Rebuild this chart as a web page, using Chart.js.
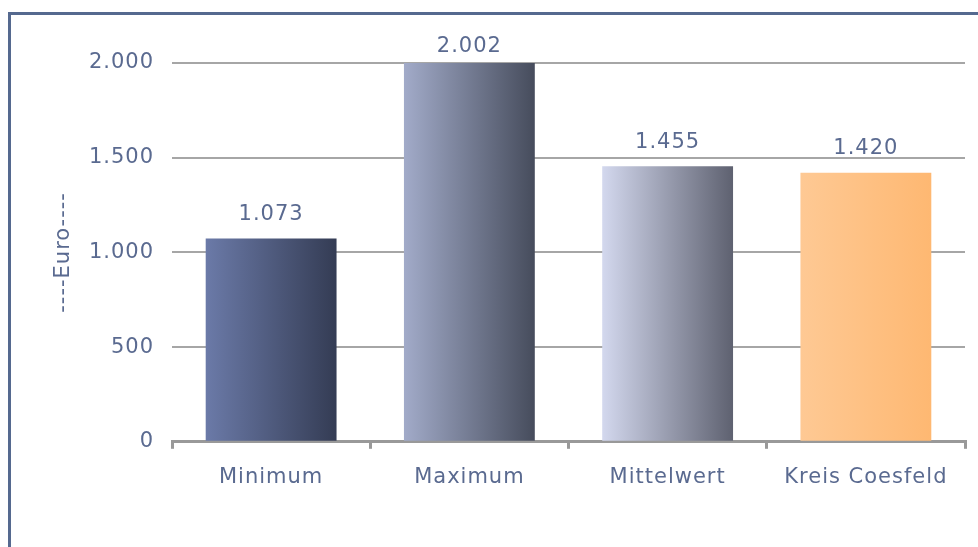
<!DOCTYPE html>
<html>
<head>
<meta charset="utf-8">
<script src="https://cdn.jsdelivr.net/npm/chart.js@4.4.1/dist/chart.umd.min.js"></script>
<style>
  html, body { margin: 0; padding: 0; width: 978px; height: 547px; overflow: hidden; background: #fff; }
  #frame { position: absolute; left: 8px; top: 12px; width: 1200px; height: 700px; border: 3px solid #55698f; box-sizing: border-box; }
  #wrap { position: absolute; left: 0; top: 0; width: 978px; height: 547px; }
</style>
</head>
<body>
<div id="frame"></div>
<div id="wrap"><canvas id="chart"></canvas></div>
<script>
// ── data ────────────────────────────────────────────────
const categories = ['Minimum', 'Maximum', 'Mittelwert', 'Kreis Coesfeld'];
const values = [1073, 2002, 1455, 1420];
const axisTicks = [0, 500, 1000, 1500, 2000];
const axisTitle = '----Euro----';

// left/right gradient stops per bar
const gradLeft = ['#6b7aa8', '#a2abc9', '#d3d8ee', '#fec994'];
const gradRight = ['#343c54', '#464c5c', '#5e6170', '#feb872'];

const TEXT = '#5a6a90';
const FONT = { family: '"DejaVu Sans", Verdana, sans-serif', size: 21 };

const fmt = v => String(v).replace(/\B(?=(\d{3})+(?!\d))/g, '.');

// wider tracking like the office-style text
const spacing = {
  id: 'spacing',
  beforeLayout: c => { c.ctx.letterSpacing = '1px'; },
  beforeDraw: c => { c.ctx.letterSpacing = '1px'; }
};

// per-bar horizontal gradients
const barGradient = {
  id: 'barGradient',
  beforeDatasetsDraw(chart) {
    const meta = chart.getDatasetMeta(0);
    const ctx = chart.ctx;
    meta.data.forEach((bar, i) => {
      const g = ctx.createLinearGradient(bar.x - bar.width / 2, 0, bar.x + bar.width / 2, 0);
      g.addColorStop(0, gradLeft[i]);
      g.addColorStop(1, gradRight[i]);
      bar.options.backgroundColor = g;
    });
  }
};

// value above each bar, kept below the frame edge
const valueLabels = {
  id: 'valueLabels',
  afterDatasetsDraw(chart) {
    const ctx = chart.ctx;
    const meta = chart.getDatasetMeta(0);
    ctx.save();
    ctx.font = `${FONT.size}px ${FONT.family}`;
    ctx.fillStyle = TEXT;
    ctx.textAlign = 'center';
    ctx.textBaseline = 'middle';
    meta.data.forEach((bar, i) => {
      const y = Math.max(bar.y - 24, chart.chartArea.top - 16);
      ctx.fillText(fmt(values[i]), bar.x, y);
    });
    ctx.restore();
  }
};

new Chart(document.getElementById('chart'), {
  type: 'bar',
  data: {
    labels: categories,
    datasets: [{
      data: values,
      backgroundColor: gradLeft,
      borderWidth: 0,
      categoryPercentage: 1,
      barPercentage: 0.66
    }]
  },
  options: {
    responsive: true,
    maintainAspectRatio: false,
    animation: false,
    layout: { padding: { left: 40, right: 13, top: 63, bottom: 41 } },
    plugins: { legend: { display: false }, tooltip: { enabled: false } },
    scales: {
      x: {
        offset: true,
        grid: { offset: true, drawOnChartArea: false, drawTicks: true, tickLength: 7, color: '#999999', lineWidth: 3 },
        border: { display: true, color: '#999999', width: 3 },
        ticks: { color: TEXT, font: FONT, padding: 16, maxRotation: 0 }
      },
      y: {
        min: axisTicks[0],
        max: axisTicks[axisTicks.length - 1],
        afterBuildTicks: s => { s.ticks = axisTicks.map(v => ({ value: v })); },
        afterFit: s => { s.width = 132; },
        grid: { color: '#a6a6a6', lineWidth: 2, drawTicks: false },
        border: { display: false },
        ticks: { color: TEXT, font: FONT, padding: 18, callback: v => fmt(v) },
        title: { display: true, text: axisTitle, color: TEXT, font: FONT, padding: { top: 11, bottom: 0 } }
      }
    }
  },
  plugins: [spacing, barGradient, valueLabels]
});
</script>
</body>
</html>
